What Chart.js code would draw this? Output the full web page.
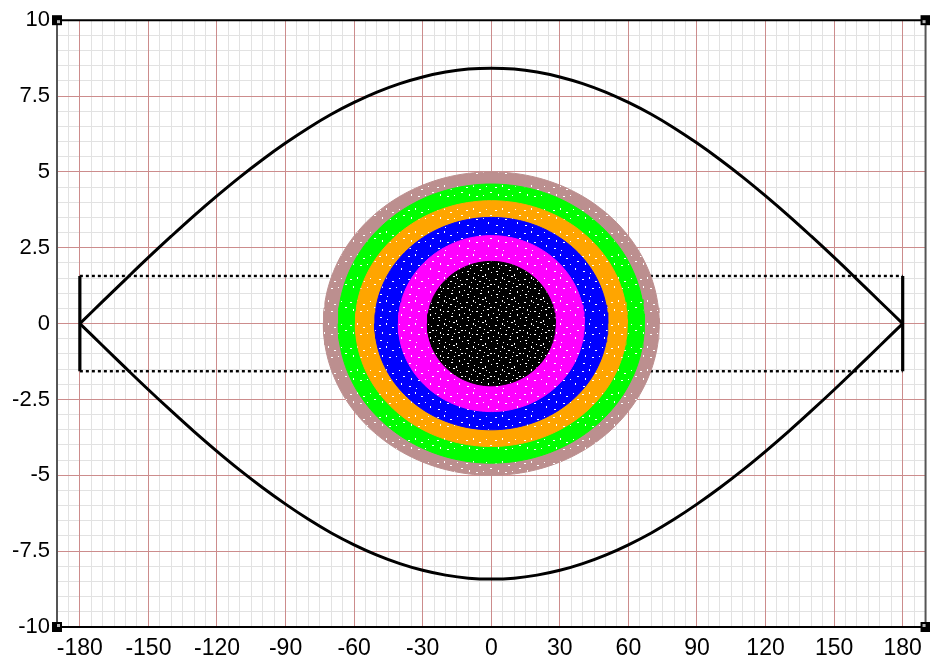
<!DOCTYPE html>
<html>
<head>
<meta charset="utf-8">
<script src="https://cdn.jsdelivr.net/npm/chart.js@4.4.1/dist/chart.umd.min.js"></script>
<style>
  html, body { margin: 0; padding: 0; background: #ffffff; }
  #wrap { width: 930px; height: 662px; }
</style>
</head>
<body>
<div id="wrap"><canvas id="c" width="930" height="662"></canvas></div>
<script>
// Phase angle (degrees) and momentum values of the separatrix
const sepX = [-180,-170,-160,-150,-140,-130,-120,-110,-100,-90,-80,-70,-60,-50,-40,-30,-20,-10,
              0,10,20,30,40,50,60,70,80,90,100,110,120,130,140,150,160,170,180];
const sepUpper = [0,0.73,1.46,2.18,2.88,3.56,4.21,4.83,5.41,5.95,6.45,6.90,7.29,7.63,7.91,8.13,8.29,8.39,
                  8.42,8.39,8.29,8.13,7.91,7.63,7.29,6.90,6.45,5.95,5.41,4.83,4.21,3.56,2.88,2.18,1.46,0.73,0];
const sepLower = [0,-0.73,-1.46,-2.18,-2.88,-3.56,-4.21,-4.83,-5.41,-5.95,-6.45,-6.90,-7.29,-7.63,-7.91,-8.13,-8.29,-8.39,
                  -8.42,-8.39,-8.29,-8.13,-7.91,-7.63,-7.29,-6.90,-6.45,-5.95,-5.41,-4.83,-4.21,-3.56,-2.88,-2.18,-1.46,-0.73,0];

// Acceptance band: momentum limits and angle limits
const bandMomentum = [-1.57, 1.57];
const bandAngle = [-180, 180];

// Particle distributions, outer to inner: half-width in angle, half-height in momentum
const ringAngleRadius = [73.5, 67, 59.5, 51, 40.7, 28];
const ringMomentumRadius = [5.0, 4.6, 4.05, 3.5, 2.9, 2.05];
const ringColors = ['#bc8f8f', '#00ff00', '#ffa500', '#0000ff', '#ff00ff', '#000000'];
const ringSpeckle = [0.3, 0.3, 0.3, 0.4, 0.4, 1.0];

// Axis tick labels
const xTickLabels = [-180, -150, -120, -90, -60, -30, 0, 30, 60, 90, 120, 150, 180];
const yTickLabels = [-10, -7.5, -5, -2.5, 0, 2.5, 5, 7.5, 10];
const xRange = [-190, 190], xMinorStep = 5;
const yRange = [-10, 10], yMinorStep = 0.5;

const MAJOR = 'rgb(204,140,140)';
const MINOR = 'rgb(226,226,226)';
const FONT = '"Liberation Sans", Arial, sans-serif';

function pts(xs, ys) { return xs.map((x, i) => ({ x: x, y: ys[i] })); }

// Outline of an elliptical distribution split into an upper and a lower half
function halfOutline(rx, ry, sign) {
  const out = [];
  const n = 90;
  for (let k = 0; k <= n; k++) {
    const t = Math.PI - Math.PI * k / n;
    out.push({ x: rx * Math.cos(t), y: sign * ry * Math.sin(t) });
  }
  return out;
}

// Grainy fill: a solid tile with a fixed set of light specks
const SPECKS = [
  [2,3,2,1],[9,1,1,2],[15,5,2,1],[22,2,1,1],[26,8,2,1],[5,10,1,2],[12,12,2,1],[19,11,1,1],
  [24,15,1,2],[3,18,2,1],[10,20,1,1],[16,17,2,1],[21,21,1,2],[7,6,1,1],[27,19,1,1],[13,8,1,1],
  [0,14,1,1],[18,0,2,1],[6,15,1,1],[25,4,1,1],[11,3,1,1],[17,14,1,1],[4,21,1,1],[23,10,2,1],
  [8,12,1,1],[14,22,1,1],[20,7,1,1],[1,8,1,1]
];
function speckPattern(color, density) {
  const tile = document.createElement('canvas');
  tile.width = 29; tile.height = 23;
  const t = tile.getContext('2d');
  t.fillStyle = color;
  t.fillRect(0, 0, tile.width, tile.height);
  t.fillStyle = '#ffffff';
  const n = Math.round(SPECKS.length * density);
  for (let k = 0; k < n; k++) {
    const s = SPECKS[k];
    t.fillRect(s[0], s[1], s[2], s[3]);
  }
  return t.createPattern(tile, 'repeat');
}

const datasets = [];
const lineBase = { pointRadius: 0, pointHoverRadius: 0, fill: false, borderColor: '#000000', xAxisID: 'x', yAxisID: 'y' };

datasets.push(Object.assign({}, lineBase, { data: pts(sepX, sepUpper), borderWidth: 3, tension: 0.4, order: 0 }));
datasets.push(Object.assign({}, lineBase, { data: pts(sepX, sepLower), borderWidth: 3, tension: 0.4, order: 0 }));

bandMomentum.forEach(m => {
  datasets.push(Object.assign({}, lineBase, {
    data: pts(bandAngle, [m, m]), borderWidth: 2.4, borderDash: [3, 3], order: 20
  }));
});
bandAngle.forEach(a => {
  datasets.push(Object.assign({}, lineBase, {
    data: pts([a, a], bandMomentum), borderWidth: 3.2, order: 1
  }));
});

ringColors.forEach((col, i) => {
  const rx = ringAngleRadius[i], ry = ringMomentumRadius[i];
  datasets.push({
    data: halfOutline(rx, ry, 1), borderColor: col, borderWidth: 1,
    backgroundColor: speckPattern(col, ringSpeckle[i]), xAxisID: 'x', yAxisID: 'y',
    fill: '+1', pointRadius: 0, pointHoverRadius: 0, order: 19 - i
  });
  datasets.push({
    data: halfOutline(rx, ry, -1), borderColor: col, borderWidth: 1, xAxisID: 'x', yAxisID: 'y',
    fill: false, pointRadius: 0, pointHoverRadius: 0, order: 19 - i
  });
});

// Fine grid positions, skipping those that carry a labelled (coarse) line
function fineTicks(range, step, coarse) {
  const t = [];
  const n = Math.round((range[1] - range[0]) / step);
  for (let k = 0; k <= n; k++) {
    const v = +(range[0] + k * step).toFixed(4);
    if (!coarse.some(c => Math.abs(c - v) < 1e-6)) t.push({ value: v });
  }
  return t;
}
const asTicks = list => list.map(v => ({ value: v }));

// Frame around the plot area with small corner markers
const framePlugin = {
  id: 'frame',
  afterDraw(chart) {
    const { ctx, chartArea: a } = chart;
    ctx.save();
    ctx.lineWidth = 2;
    ctx.strokeStyle = '#000000';
    ctx.beginPath();
    ctx.moveTo(a.left, a.top); ctx.lineTo(a.right, a.top);
    ctx.moveTo(a.left, a.bottom); ctx.lineTo(a.right, a.bottom);
    ctx.stroke();
    ctx.strokeStyle = '#555555';
    ctx.beginPath();
    ctx.moveTo(a.left, a.top); ctx.lineTo(a.left, a.bottom);
    ctx.moveTo(a.right, a.top); ctx.lineTo(a.right, a.bottom);
    ctx.stroke();
    const s = 10;
    [[a.left, a.top, 1, 1], [a.right, a.top, -1, 1], [a.left, a.bottom, 1, -1], [a.right, a.bottom, -1, -1]].forEach(c => {
      ctx.fillStyle = '#000000';
      ctx.fillRect(c[0] - s / 2, c[1] - s / 2, s, s);
      ctx.fillStyle = '#bbbbbb';
      ctx.fillRect(c[0] + (c[2] > 0 ? 0 : -3), c[1] + (c[3] > 0 ? 0 : -3), 3, 3);
    });
    ctx.restore();
  }
};

new Chart(document.getElementById('c'), {
  type: 'scatter',
  data: { datasets: datasets },
  plugins: [framePlugin],
  options: {
    responsive: false,
    animation: false,
    events: [],
    showLine: true,
    layout: { padding: { top: 18, right: 3, left: 0, bottom: 0 } },
    plugins: { legend: { display: false }, tooltip: { enabled: false } },
    scales: {
      // labelled axes with the coarse grid
      x: {
        type: 'linear', position: 'bottom', min: xRange[0], max: xRange[1], weight: 1,
        afterBuildTicks: s => { s.ticks = asTicks(xTickLabels); },
        afterFit: s => { s.height = 35; },
        border: { display: false },
        grid: { drawTicks: false, color: MAJOR, lineWidth: 1, z: -1 },
        ticks: {
          autoSkip: false, maxRotation: 0, padding: 8, color: '#000000',
          font: { family: FONT, size: 23 },
          callback: v => String(v)
        }
      },
      y: {
        type: 'linear', position: 'left', min: yRange[0], max: yRange[1], weight: 1,
        afterBuildTicks: s => { s.ticks = asTicks(yTickLabels); },
        afterFit: s => { s.width = 57; },
        border: { display: false },
        grid: { drawTicks: false, color: MAJOR, lineWidth: 1, z: -1 },
        ticks: {
          autoSkip: false, padding: 7, color: '#000000',
          font: { family: FONT, size: 22 },
          callback: v => String(v)
        }
      },
      // fine grid underneath
      xFine: {
        type: 'linear', axis: 'x', position: 'bottom', min: xRange[0], max: xRange[1], weight: 0,
        afterBuildTicks: s => { s.ticks = fineTicks(xRange, xMinorStep, xTickLabels); },
        afterFit: s => { s.height = 0; },
        border: { display: false },
        grid: { drawTicks: false, color: MINOR, lineWidth: 1, z: -2 },
        ticks: { display: false }
      },
      yFine: {
        type: 'linear', axis: 'y', position: 'left', min: yRange[0], max: yRange[1], weight: 0,
        afterBuildTicks: s => { s.ticks = fineTicks(yRange, yMinorStep, yTickLabels); },
        afterFit: s => { s.width = 0; },
        border: { display: false },
        grid: { drawTicks: false, color: MINOR, lineWidth: 1, z: -2 },
        ticks: { display: false }
      }
    }
  }
});
</script>
</body>
</html>
